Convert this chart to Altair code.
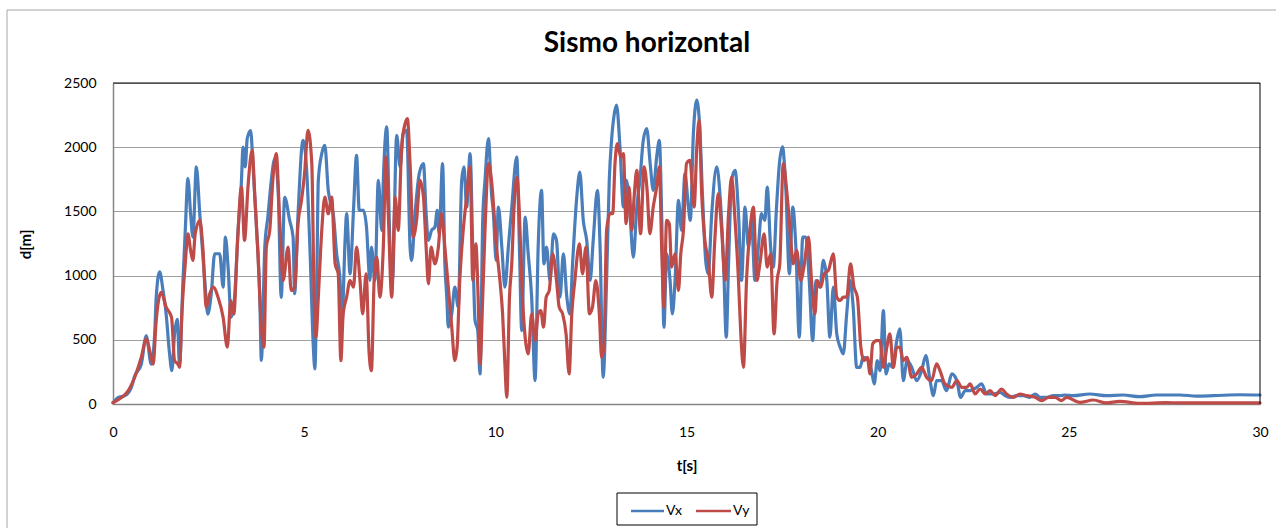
import altair as alt
import pandas as pd

title_text = "Sismo horizontal"
x_title = "t[s]"
y_title = "d[m]"
x_ticks = [0, 5, 10, 15, 20, 25, 30]
y_ticks = [0, 500, 1000, 1500, 2000, 2500]
series_names = ["Vx", "Vy"]
series_colors = ["#4A7EBB", "#BE4B48"]

# (t [s], d) pairs
vx_points = [
    (0.00, 10), (0.13, 50), (0.31, 65), (0.48, 130), (0.57, 220), (0.74, 310), (0.87, 530), (1.00, 310),
    (1.09, 546), (1.13, 830), (1.22, 1030), (1.31, 880), (1.39, 700), (1.48, 390), (1.54, 260), (1.61, 546),
    (1.68, 660), (1.74, 310), (1.83, 960), (1.89, 1350), (1.96, 1755), (2.03, 1480), (2.09, 1300), (2.18, 1846),
    (2.27, 1480), (2.40, 960), (2.48, 700), (2.57, 860), (2.66, 1170), (2.79, 1170), (2.88, 910), (2.94, 1300),
    (3.01, 1066), (3.09, 676), (3.18, 830), (3.27, 1350), (3.36, 1740), (3.40, 2000), (3.46, 1846), (3.51, 2067),
    (3.60, 2130), (3.66, 1870), (3.75, 1400), (3.84, 830), (3.88, 340), (3.97, 1220), (4.05, 1456), (4.14, 1740),
    (4.23, 1910), (4.32, 1660), (4.40, 830), (4.49, 1610), (4.62, 1430), (4.71, 1300), (4.75, 860), (4.84, 1480),
    (4.97, 2054),
    (5.06, 1846), (5.15, 1222), (5.24, 442), (5.28, 273), (5.33, 962), (5.37, 1742), (5.46, 1950), (5.54, 2015),
    (5.63, 1664), (5.72, 1534), (5.76, 1482), (5.85, 1170), (5.94, 962), (5.98, 572), (6.07, 1274), (6.11, 1482),
    (6.20, 1014), (6.29, 1508), (6.37, 1937), (6.44, 1508), (6.55, 1508), (6.63, 1378), (6.72, 962), (6.76, 1222),
    (6.85, 962), (6.94, 1742), (7.03, 1352), (7.07, 1742), (7.16, 2158), (7.24, 1274), (7.31, 962), (7.42, 2093),
    (7.51, 1846), (7.59, 2106), (7.68, 2132), (7.77, 1222), (7.81, 1118), (7.90, 1482), (8.01, 1794), (8.12, 1872),
    (8.19, 1482), (8.25, 1274), (8.33, 1352), (8.42, 1378), (8.48, 1508), (8.53, 1326), (8.62, 1872), (8.68, 1092),
    (8.73, 832), (8.77, 598), (8.86, 702), (8.94, 910), (9.03, 754), (9.12, 1742), (9.18, 1846), (9.25, 1534),
    (9.34, 1950), (9.41, 1222), (9.47, 650), (9.54, 572), (9.60, 234), (9.67, 1430), (9.73, 1742), (9.82, 2067),
    (9.90, 1638),
    (9.95, 1482), (10.02, 1118), (10.08, 1534), (10.17, 1222), (10.25, 910), (10.34, 1222), (10.43, 1534),
    (10.56, 1924), (10.63, 1222), (10.69, 572), (10.78, 1456), (10.86, 1170), (10.95, 832), (11.04, 182),
    (11.12, 1222), (11.21, 1664), (11.27, 1092), (11.34, 1222), (11.43, 962), (11.52, 1326), (11.60, 1274),
    (11.69, 832), (11.78, 1170), (11.87, 832), (11.95, 702), (12.02, 1092), (12.13, 1612), (12.21, 1807),
    (12.30, 1430), (12.39, 1274), (12.48, 962), (12.56, 1274), (12.67, 1664), (12.74, 1222), (12.82, 208),
    (12.91, 962), (12.98, 1742), (13.04, 2054), (13.10, 2236), (13.17, 2327), (13.26, 2002), (13.35, 1534),
    (13.43, 1742), (13.52, 1482), (13.61, 1144), (13.70, 1534), (13.78, 1742), (13.87, 2054), (13.96, 2145),
    (14.05, 1872), (14.13, 1664), (14.22, 1924), (14.29, 2054), (14.35, 1482), (14.41, 598), (14.48, 1170),
    (14.57, 962), (14.63, 702), (14.70, 962), (14.79, 1586), (14.87, 1352), (14.96, 1794), (15.05, 1534),
    (15.10, 1430), (15.18, 2106), (15.27, 2366), (15.35, 2132), (15.42, 1612), (15.51, 1092), (15.57, 1014),
    (15.66, 1482), (15.79, 1846), (15.88, 1612), (15.97, 1092), (16.04, 520), (16.10, 1092), (16.18, 1742),
    (16.27, 1820), (16.36, 1482), (16.44, 962), (16.53, 1534), (16.62, 1222), (16.70, 1430), (16.79, 962),
    (16.88, 1222), (16.96, 1482), (17.05, 1430), (17.11, 1690), (17.20, 1222), (17.27, 1066), (17.35, 1508),
    (17.43, 1872), (17.51, 2002), (17.60, 1664), (17.69, 1014), (17.78, 1534), (17.86, 1222), (17.95, 520),
    (18.04, 1300), (18.12, 1300), (18.21, 962), (18.30, 494), (18.39, 962), (18.49, 910), (18.58, 1118),
    (18.67, 962), (18.75, 520), (18.84, 910), (18.93, 546), (19.02, 442), (19.10, 390), (19.19, 702),
    (19.28, 962), (19.36, 754), (19.45, 286), (19.54, 286), (19.62, 364), (19.75, 338), (19.84, 260),
    (19.91, 156), (19.99, 338),
    (20.06, 260), (20.15, 728), (20.22, 234), (20.30, 312), (20.39, 286), (20.50, 494), (20.58, 585),
    (20.67, 182), (20.77, 338), (20.89, 286), (21.02, 182), (21.15, 260), (21.26, 377), (21.37, 182),
    (21.46, 65), (21.54, 182), (21.67, 182), (21.80, 104), (21.94, 234), (22.07, 182), (22.17, 52),
    (22.29, 104), (22.42, 104), (22.59, 130), (22.72, 156), (22.85, 78), (23.03, 78), (23.20, 91),
    (23.33, 65), (23.46, 52), (23.64, 65), (23.81, 65), (23.98, 52), (24.12, 78), (24.25, 52), (24.43, 52),
    (24.59, 65), (24.77, 65), (24.90, 70),
    (25.11, 65), (25.55, 78), (25.98, 65), (26.42, 70), (26.85, 57), (27.29, 70), (27.90, 70), (28.34, 62),
    (28.78, 65), (29.47, 72), (30.00, 70),
]

vy_points = [
    (0.00, 10), (0.22, 50), (0.39, 100), (0.57, 210), (0.74, 364), (0.87, 507), (0.96, 416), (1.05, 310),
    (1.13, 650), (1.26, 870), (1.39, 754), (1.53, 676), (1.61, 338), (1.70, 310), (1.74, 286), (1.80, 700),
    (1.89, 1092), (1.96, 1326), (2.03, 1196), (2.09, 1118), (2.15, 1326), (2.27, 1430), (2.35, 1220),
    (2.44, 754), (2.53, 858), (2.62, 910), (2.75, 830), (2.88, 676), (2.99, 442), (3.08, 806), (3.16, 700),
    (3.25, 1220), (3.36, 1690), (3.44, 1274), (3.53, 1690), (3.64, 1976), (3.71, 1612), (3.79, 1170),
    (3.88, 598), (3.95, 442), (4.01, 1220), (4.10, 1352), (4.18, 1742), (4.27, 1950), (4.36, 1430),
    (4.45, 962), (4.58, 1222), (4.66, 884), (4.75, 910), (4.84, 1404), (4.93, 1586), (5.01, 1794), (5.10, 2132),
    (5.20, 1872), (5.26, 832), (5.31, 520), (5.37, 832), (5.46, 1352), (5.54, 1612), (5.63, 1482), (5.72, 1612),
    (5.81, 1092), (5.89, 1014), (5.96, 338), (6.02, 702), (6.11, 832), (6.20, 962), (6.29, 910), (6.37, 1222),
    (6.46, 962), (6.53, 702), (6.62, 1014), (6.70, 390), (6.76, 260), (6.83, 962), (6.90, 1144), (6.98, 832),
    (7.07, 1222), (7.14, 1924), (7.20, 1482), (7.29, 832), (7.38, 1612), (7.46, 1352), (7.55, 2002),
    (7.64, 2184), (7.70, 2223), (7.77, 1872), (7.85, 1300), (7.94, 1430), (8.03, 1742), (8.12, 1612),
    (8.19, 1222), (8.25, 936), (8.32, 1222), (8.42, 1092), (8.51, 1222), (8.59, 1482), (8.68, 1222),
    (8.77, 910), (8.86, 598), (8.94, 338), (9.00, 442), (9.07, 962), (9.16, 1352), (9.25, 1612), (9.34, 1846),
    (9.41, 962), (9.49, 1248), (9.55, 832), (9.60, 312), (9.67, 832), (9.73, 1352), (9.82, 1872), (9.90, 1742),
    (10.03, 1222), (10.12, 962), (10.19, 702), (10.25, 312), (10.30, 52), (10.37, 832), (10.43, 1092),
    (10.49, 1534), (10.56, 1768), (10.63, 1482), (10.69, 962), (10.78, 520), (10.86, 390), (10.95, 702),
    (11.04, 494), (11.12, 702), (11.19, 728), (11.26, 598), (11.33, 832), (11.41, 884), (11.50, 1170),
    (11.60, 962), (11.67, 754), (11.76, 702), (11.85, 546), (11.93, 234), (12.00, 702), (12.08, 962),
    (12.20, 1248), (12.28, 1014), (12.37, 1222), (12.46, 702), (12.54, 754), (12.63, 962), (12.72, 702),
    (12.78, 364), (12.84, 442), (12.91, 1352), (13.00, 1482), (13.07, 1482), (13.13, 1872), (13.19, 2028),
    (13.28, 1924), (13.35, 1950), (13.42, 1404), (13.50, 1690), (13.57, 1352), (13.63, 1612), (13.70, 1820),
    (13.80, 1326), (13.89, 1846), (13.97, 1664), (14.04, 1326), (14.13, 1534), (14.22, 1690), (14.29, 1846),
    (14.35, 1222), (14.41, 754), (14.48, 1430), (14.55, 1404), (14.61, 1066), (14.70, 1170), (14.79, 884),
    (14.85, 1170), (14.92, 1352), (15.00, 1872), (15.09, 1898),
    (15.20, 1534), (15.27, 2002), (15.33, 2210), (15.40, 1612), (15.48, 1274), (15.57, 1118), (15.66, 832),
    (15.74, 1274), (15.83, 1638), (15.92, 1352), (16.01, 962), (16.10, 1482), (16.18, 1768), (16.27, 1430),
    (16.36, 962), (16.42, 546), (16.49, 286), (16.57, 962), (16.66, 1352), (16.75, 1534), (16.84, 962),
    (16.92, 1092), (17.03, 1326), (17.11, 1066), (17.20, 1170), (17.29, 546), (17.37, 962), (17.44, 1092),
    (17.53, 1872), (17.62, 1664), (17.71, 1352), (17.79, 1092), (17.88, 1196), (17.99, 962), (18.07, 1066),
    (18.19, 1300), (18.27, 962), (18.36, 702), (18.42, 962), (18.51, 910), (18.60, 1014), (18.71, 1040),
    (18.84, 1170), (18.93, 832), (19.02, 806), (19.10, 832), (19.19, 832), (19.29, 1092), (19.38, 910),
    (19.47, 832), (19.56, 442), (19.64, 338), (19.73, 364), (19.80, 234), (19.87, 468), (19.97, 494),
    (20.06, 494), (20.15, 286), (20.24, 442), (20.32, 546), (20.41, 286), (20.50, 442), (20.58, 442),
    (20.67, 338), (20.76, 364), (20.89, 208), (21.02, 234), (21.15, 286), (21.28, 208), (21.41, 182),
    (21.54, 312), (21.63, 260), (21.76, 156), (21.94, 130), (22.07, 182), (22.20, 130), (22.33, 130),
    (22.42, 156), (22.55, 78), (22.68, 117), (22.81, 78), (22.94, 104), (23.07, 65), (23.24, 117),
    (23.37, 78), (23.55, 52), (23.72, 78), (23.90, 65), (24.12, 52), (24.29, 26), (24.47, 52), (24.64, 52),
    (24.81, 26), (24.94, 52), (25.29, 13), (25.64, 31), (25.98, 8), (26.33, 21), (26.85, 5), (27.55, 10),
    (28.68, 8), (30.00, 8),
]

rows = [{"t": t, "d": d, "serie": "Vx"} for t, d in vx_points]
rows += [{"t": t, "d": d, "serie": "Vy"} for t, d in vy_points]
df = pd.DataFrame(rows)

W, H = 1147, 321
FONT = "Lato"

lines = alt.Chart(df).mark_line(
    strokeWidth=3.2, strokeJoin="round", strokeCap="round", interpolate="monotone"
).encode(
    x=alt.X(
        "t:Q",
        scale=alt.Scale(domain=[0, 30], nice=False),
        axis=alt.Axis(
            values=x_ticks, title=x_title, grid=False, ticks=False, format="d",
            domainColor="#868686", domainWidth=1.5,
            labelFontSize=14, labelColor="black", labelPadding=21, labelFlush=False,
            titleFontSize=15, titleFontWeight="bold", titleColor="black",
            titleBaseline="alphabetic", titleY=66,
        ),
    ),
    y=alt.Y(
        "d:Q",
        scale=alt.Scale(domain=[0, 2500], nice=False),
        axis=alt.Axis(
            values=y_ticks, title=y_title, grid=True, gridColor="#A0A0A0", gridWidth=1,
            ticks=False, format="d", domainColor="#868686", domainWidth=1.5,
            labelFontSize=14, labelColor="black", labelPadding=17,
            titleFontSize=15, titleFontWeight="bold", titleColor="black",
            titleBaseline="alphabetic", titleX=-83, titleY=161,
        ),
    ),
    color=alt.Color(
        "serie:N",
        scale=alt.Scale(domain=series_names, range=series_colors),
        legend=None,
    ),
)

one = pd.DataFrame({"k": [0]})
frame_top = alt.Chart(one).mark_rule(color="black", strokeWidth=1).encode(
    x=alt.value(0), x2=alt.value(W), y=alt.value(0)
)
frame_right = alt.Chart(one).mark_rule(color="black", strokeWidth=1).encode(
    x=alt.value(W), y=alt.value(0), y2=alt.value(H)
)
outer_left = alt.Chart(one).mark_rule(color="#A6A6A6", strokeWidth=1).encode(
    x=alt.value(-106), y=alt.value(-73), y2=alt.value(460)
)
outer_top = alt.Chart(one).mark_rule(color="#A6A6A6", strokeWidth=1).encode(
    x=alt.value(-106), x2=alt.value(1180), y=alt.value(-73)
)

title_mark = alt.Chart(one).mark_text(
    text=title_text, font=FONT, fontSize=28, fontWeight="bold", color="black",
    align="center", baseline="alphabetic",
).encode(x=alt.value(534), y=alt.value(-31))

# legend drawn as a boxed key below the axis title
legend_box = alt.Chart(one).mark_rect(fill="white", stroke="black", strokeWidth=1).encode(
    x=alt.value(504), x2=alt.value(644), y=alt.value(410), y2=alt.value(442)
)
legend_vx_line = alt.Chart(one).mark_rule(color=series_colors[0], strokeWidth=2.5).encode(
    x=alt.value(518), x2=alt.value(551), y=alt.value(428)
)
legend_vy_line = alt.Chart(one).mark_rule(color=series_colors[1], strokeWidth=2.5).encode(
    x=alt.value(583), x2=alt.value(618), y=alt.value(428)
)
legend_vx_text = alt.Chart(one).mark_text(
    text=series_names[0], font=FONT, fontSize=14, color="black", align="left", baseline="middle"
).encode(x=alt.value(553), y=alt.value(428))
legend_vy_text = alt.Chart(one).mark_text(
    text=series_names[1], font=FONT, fontSize=14, color="black", align="left", baseline="middle"
).encode(x=alt.value(620), y=alt.value(428))

chart = alt.layer(
    outer_left, outer_top, lines, frame_top, frame_right, title_mark,
    legend_box, legend_vx_line, legend_vy_line, legend_vx_text, legend_vy_text,
).properties(
    width=W,
    height=H,
    padding={"left": 113, "top": 83, "right": 16, "bottom": 124},
    autosize=alt.AutoSizeParams(type="none"),
).configure(font=FONT, background="white").configure_view(stroke="transparent")

chart.save("out.html", embed_options={"renderer": "svg", "actions": False})
